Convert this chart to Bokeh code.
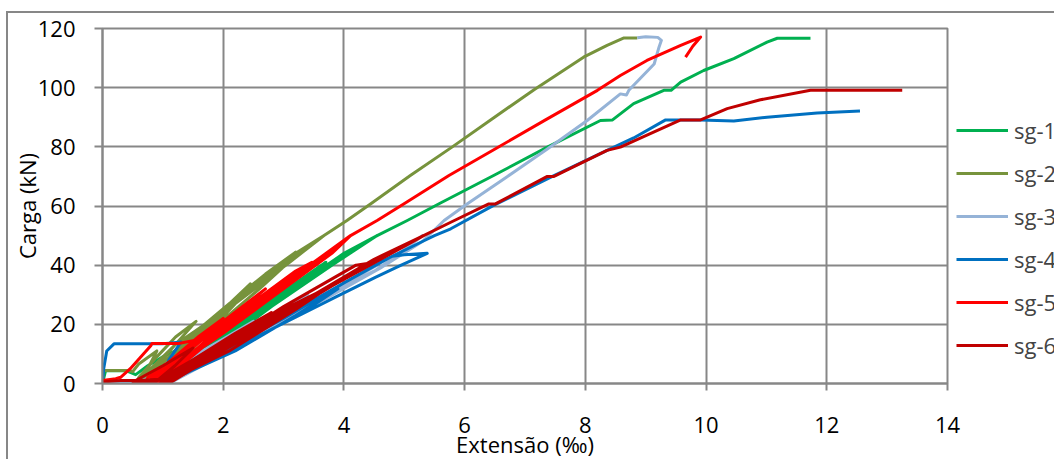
import math
from bokeh.plotting import figure
from bokeh.models import Legend, LegendItem, FixedTicker, Range1d
from bokeh.embed import file_html
from bokeh.resources import INLINE

# ---- data (strain in per mille, load in kN) ----
series_names = ["sg-1", "sg-2", "sg-3", "sg-4", "sg-5", "sg-6"]
series_colors = ["#00B050", "#77933C", "#95B3D7", "#0070C0", "#FF0000", "#C00000"]

sg1_x = [0, 0.05, 0.40, 0.55, 0.75, 1.0, 1.3, 1.0, 0.75,
         0.85, 1.3, 1.7, 2.1, 1.6, 1.2, 0.85,
         0.95, 1.6, 2.3, 2.9, 2.3, 1.6, 0.95,
         1.0, 1.8, 2.7, 3.7, 3.0, 2.0, 1.0,
         1.05, 2.0, 3.0, 4.0, 4.55, 3.8, 2.8, 1.1,
         1.15, 2.2, 3.3, 4.1, 4.55, 5.05, 5.6, 6.48, 7.37, 8.25, 8.45, 8.8, 9.3, 9.42, 9.58, 9.96, 10.46, 11.01, 11.18, 11.73]
sg1_y = [0, 4.3, 4.3, 3, 6, 9, 12, 5, 0,
         2, 9, 16, 21, 12, 5, 0,
         3, 12, 22, 31, 21, 10, 0,
         3, 14, 27, 41, 30, 15, 0,
         3, 16, 30, 44, 50, 40, 26, 0,
         4, 18, 33, 44.4, 50, 55.1, 61, 70.3, 79.9, 88.9, 89.1, 94.6, 99.1, 99.1, 101.9, 105.8, 109.8, 115.4, 116.7, 116.7]

sg2_x = [0, 0.02, 0.44, 0.5, 0.6, 0.9, 0.75, 0.55,
         0.6, 0.9, 1.21, 1.55, 1.2, 0.9, 0.65,
         0.7, 1.2, 1.7, 2.09, 2.45, 2.0, 1.4, 0.75,
         0.8, 1.4, 2.1, 2.7, 3.2, 2.7, 1.9, 0.85,
         0.9, 1.6, 2.4, 3.2, 3.67, 3.1, 2.2, 0.95,
         1.0, 1.8, 2.6, 3.3, 3.67, 4.05, 4.44, 5.10, 5.79, 6.43, 7.15, 7.97, 8.36, 8.64, 8.86]
sg2_y = [0, 4.4, 4.4, 4, 6.6, 11, 5, 0,
         2, 9, 15.7, 21, 13, 6, 0,
         3, 13, 20, 26.4, 33.7, 25, 14, 0,
         3, 15, 27, 37, 44.4, 36, 22, 0,
         3, 17, 31, 44, 50, 41, 27, 0,
         4, 18, 32, 45, 50, 55.1, 60.7, 70.3, 79.9, 89.1, 99.3, 110.3, 114.3, 116.8, 116.8]

sg3_x = [0, 0.3, 0.6, 0.8, 1.05, 1.5, 1.2, 0.85,
         0.9, 1.4, 2.0, 2.5, 2.0, 1.4, 0.95,
         1.0, 1.7, 2.6, 3.4, 2.7, 1.8, 1.0,
         1.05, 2.0, 3.0, 4.2, 4.55, 3.6, 2.4, 1.05,
         1.1, 2.2, 3.4, 4.52, 5.0, 5.3, 4.6, 3.2, 1.1,
         1.15, 2.3, 3.5, 4.6, 5.3, 5.66, 6.04, 6.71, 7.37, 8.03, 8.58, 8.68, 8.72, 9.14, 9.22, 9.26, 9.2, 9.0, 8.86]
sg3_y = [0, 0.5, 0.8, 2, 5, 10, 5, 0,
         2, 8, 15, 21, 13, 5, 0,
         2, 10, 20, 30, 20, 9, 0,
         2, 12, 23, 38, 40, 29, 14, 0,
         2, 14, 27, 38.2, 45, 50, 39, 23, 0,
         3, 15, 28, 39, 48, 55.1, 60.7, 70, 79.3, 88.9, 97.9, 97.5, 99.1, 108, 113.7, 116, 117, 117.2, 116.9]

sg4_x = [0, 0.02, 0.07, 0.19, 0.99, 1.1, 1.3, 1.1, 0.95,
         1.0, 1.6, 2.2, 2.8, 2.2, 1.5, 0.95,
         1.0, 1.93, 2.54, 3.2, 3.9, 3.2, 2.2, 1.0,
         1.0, 1.93, 2.54, 3.2, 3.86, 4.52, 4.94, 5.38, 5.0, 4.8, 4.0, 3.0, 1.9, 1.05,
         1.1, 2.2, 3.4, 4.6, 5.3, 5.5, 5.77, 6.48, 7.42, 8.36, 8.8, 9.33, 9.58, 9.91, 10.46, 11.01, 11.84, 12.55]
sg4_y = [0, 5, 11, 13.4, 13.4, 13.6, 14, 8, 0,
         2, 8, 15, 22, 14, 6, 0,
         1, 8.9, 15.7, 22.4, 32, 23, 11, 0,
         0.5, 8.9, 15.7, 22.4, 29.2, 35.9, 39.9, 44, 43.5, 43, 34, 22, 10, 0,
         1, 13, 27, 41, 48, 50, 52.3, 60.2, 69.7, 78.8, 83, 89.1, 89.1, 89.1, 88.7, 90, 91.4, 92.1]

sg5_x = [0, 0.22, 0.3, 0.46, 0.8, 0.82, 1.26, 1.5, 1.2, 0.9,
         0.8, 1.2, 1.6, 2.0, 1.5, 1.0, 0.7,
         0.75, 1.3, 2.0, 2.7, 2.1, 1.3, 0.8,
         0.85, 1.6, 2.4, 3.2, 3.47, 2.8, 1.8, 0.9,
         0.9, 1.8, 2.8, 3.75, 4.11, 3.5, 2.4, 0.95,
         1.0, 2.0, 3.0, 3.8, 4.11, 4.55, 4.99, 5.74, 6.54, 7.34, 8.2, 8.58, 9.02, 9.58, 9.91, 9.78, 9.66]
sg5_y = [1, 1.6, 2.1, 5, 12.8, 13.5, 13.5, 14.5, 7, 0,
         2, 9, 16, 22, 13, 4, 0,
         2, 10, 21, 32, 22, 9, 0,
         3, 14, 26, 38, 41, 31, 16, 0,
         2, 15, 30, 44.4, 50, 41, 25, 0,
         3, 17, 32, 44, 50, 55.1, 60.7, 70.3, 79.7, 89.1, 99.1, 104.1, 109.2, 114.3, 117.1, 114, 110.3]

sg6_x = [0, 0.3, 0.6, 1.0, 0.8, 0.5,
         0.55, 1.0, 1.5, 1.2, 0.85,
         0.9, 1.5, 2.2, 2.8, 2.1, 1.4, 0.95,
         1.0, 1.8, 2.7, 3.75, 4.0, 3.2, 2.1, 1.0,
         1.05, 2.0, 3.0, 4.2, 4.52, 3.8, 2.5, 1.05,
         1.1, 2.2, 3.4, 4.52, 5.32, 4.5, 3.0, 1.1,
         1.15, 2.4, 3.6, 4.6, 5.32, 5.77, 6.4, 6.51, 7.37, 7.48, 8.36, 8.58, 9.25, 9.58, 9.91, 10.35, 10.9, 11.73, 13.25]
sg6_y = [0.5, 1, 1, 1.5, 0.5, 0,
         1, 6, 12, 6, 0,
         1, 8, 17, 24, 14, 5, 0,
         1, 11, 22, 32.6, 36, 25, 11, 0,
         1, 13, 26, 40, 41, 33, 17, 0,
         2, 15, 29, 41, 50, 42, 24, 0,
         2, 17, 31, 42, 50, 54.5, 60.7, 60.7, 70, 70, 78.8, 79.9, 86.1, 89.1, 89.1, 92.9, 95.9, 99.1, 99.1]

x_ticks = [0, 2, 4, 6, 8, 10, 12, 14]
y_ticks = [0, 20, 40, 60, 80, 100, 120]
x_title = "Extensão (‰)"
y_title = "Carga (kN)"

all_x = [sg1_x, sg2_x, sg3_x, sg4_x, sg5_x, sg6_x]
all_y = [sg1_y, sg2_y, sg3_y, sg4_y, sg5_y, sg6_y]

GRID = "#878787"
FONT = "Open Sans"

p = figure(frame_width=845, frame_height=355, x_range=Range1d(0, 14), y_range=Range1d(0, 120),
           output_backend="svg", toolbar_location=None,
           min_border_left=102, min_border_right=90, min_border_top=28, min_border_bottom=76)
p.background_fill_color = "white"
p.border_fill_color = None
p.outline_line_color = GRID
p.outline_line_width = 2
# outer chart-area border (cut by the window on the right and bottom)
p.styles = {
    "background-color": "white",
    "background-image": "linear-gradient(#878787, #878787), linear-gradient(#878787, #878787)",
    "background-size": "2px 100%, 100% 2px",
    "background-position": "6px 12px, 6px 11px",
    "background-repeat": "no-repeat",
}

for ax, ticks in ((p.xaxis[0], x_ticks), (p.yaxis[0], y_ticks)):
    ax.ticker = FixedTicker(ticks=ticks)
    ax.minor_tick_line_color = None
    ax.axis_line_color = GRID
    ax.axis_line_width = 2
    ax.major_tick_line_color = GRID
    ax.major_tick_line_width = 2
    ax.major_tick_in = 0
    ax.major_label_text_font = FONT
    ax.major_label_text_font_size = "22px"
    ax.major_label_text_color = "black"
    ax.axis_label_text_font = FONT
    ax.axis_label_text_font_size = "22px"
    ax.axis_label_text_font_style = "normal"
    ax.axis_label_text_color = "black"
p.xaxis.major_tick_out = 7
p.xaxis.major_label_standoff = 26
p.xaxis.axis_label = x_title
p.xaxis.axis_label_standoff = -7
p.yaxis.major_tick_out = 8
p.yaxis.major_label_standoff = 19
p.yaxis.axis_label = y_title
p.yaxis.axis_label_standoff = -7

p.xgrid.grid_line_color = GRID
p.xgrid.grid_line_width = 2
p.ygrid.grid_line_color = GRID
p.ygrid.grid_line_width = 2

items = []
for name, color, xs, ys in zip(series_names, series_colors, all_x, all_y):
    r = p.line(xs, ys, line_color=color, line_width=3, line_join="round")
    items.append(LegendItem(label=name, renderers=[r]))

legend = Legend(items=items, location="top_left", title=" ", title_standoff=48,
                title_text_font=FONT, title_text_font_size="22px",
                glyph_width=52, glyph_height=20,
                label_height=20, label_standoff=6, spacing=13, padding=0, margin=9,
                border_line_alpha=0, background_fill_alpha=0,
                label_text_font=FONT, label_text_font_size="22px")
p.add_layout(legend, "right")

open("out.html", "w").write(file_html(p, INLINE))
